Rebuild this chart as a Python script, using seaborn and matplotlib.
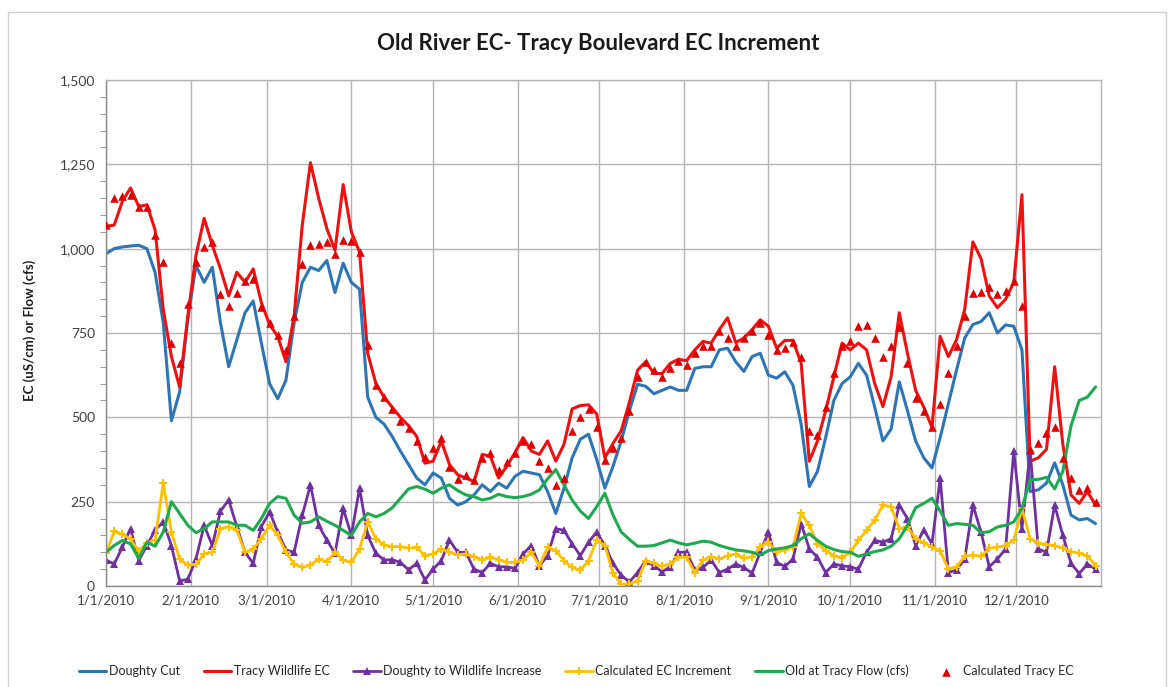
import pandas as pd
import matplotlib
matplotlib.use("Agg")
import matplotlib.pyplot as plt
import matplotlib.dates as mdates
from matplotlib.ticker import FuncFormatter, MultipleLocator
from matplotlib.patches import Rectangle
import seaborn as sns

# Readings every third day through 2010
dates = pd.date_range("2010-01-01", periods=122, freq="3D")

doughty_cut = [
    985, 1000, 1005, 1008, 1010, 1000, 930, 780, 490, 575,
    790, 950, 900, 945, 780, 650, 730, 810, 845, 720,
    600, 555, 610, 780, 900, 945, 935, 965, 870, 957,
    900, 880, 560, 500, 480, 443, 400, 360, 320, 300,
    335, 320, 260, 240, 250, 270, 300, 280, 305, 290,
    325, 340, 335, 330, 280, 215, 290, 380, 435, 450,
    375, 290, 355, 430, 520, 598, 592, 570, 580, 590,
    580, 580, 645, 650, 650, 700, 705, 665, 636, 680,
    690, 625, 616, 635, 595, 480, 295, 340, 440, 550,
    600, 620, 660, 625, 530, 430, 465, 605, 520, 430,
    380, 350, 440, 540, 640, 735, 775, 784, 810, 750,
    774, 770, 700, 280, 285, 305, 365, 300, 210, 196,
    200, 185,
]

tracy_wildlife = [
    1066, 1070, 1140, 1180, 1125, 1130, 1056, 820, 680, 590,
    800, 980, 1090, 1010, 940, 860, 930, 900, 940, 840,
    775, 740, 665, 800, 1070, 1255, 1150, 1060, 995, 1190,
    1050, 990, 690, 600, 560, 530, 500, 475, 443, 364,
    370, 430, 360, 330, 320, 310, 390, 385, 320, 355,
    395, 440, 400, 390, 430, 370, 420, 525, 535, 537,
    510, 380, 423, 460, 545, 640, 665, 630, 630, 660,
    672, 668, 700, 725, 720, 760, 795, 722, 735, 760,
    789, 770, 705, 728, 728, 660, 370, 430, 520, 620,
    720, 700, 720, 700, 600, 532, 620, 810, 690, 580,
    530, 470, 740, 680, 730, 820, 1020, 970, 860, 825,
    850, 900, 1160, 370, 380, 405, 650, 420, 270, 245,
    280, 240,
]

doughty_to_wildlife = [
    77, 65, 115, 170, 75, 120, 166, 190, 120, 15,
    20, 80, 180, 120, 222, 255, 176, 100, 67, 176,
    220, 160, 107, 100, 210, 300, 180, 136, 97, 230,
    150, 290, 150, 97, 77, 78, 70, 48, 67, 18,
    50, 75, 136, 100, 100, 50, 40, 67, 57, 57,
    52, 95, 120, 60, 90, 170, 165, 125, 90, 130,
    160, 120, 67, 32, 12, 40, 75, 60, 42, 57,
    100, 100, 47, 55, 77, 40, 50, 65, 55, 38,
    100, 160, 70, 58, 80, 185, 110, 85, 40, 65,
    60, 57, 50, 100, 135, 130, 140, 240, 200, 120,
    166, 125, 320, 40, 47, 80, 240, 160, 57, 80,
    110, 400, 170, 400, 110, 100, 240, 150, 67, 37,
    65, 50,
]

calc_ec_increment = [
    97, 162, 155, 138, 105, 127, 137, 305, 160, 80,
    62, 64, 95, 100, 170, 176, 165, 100, 110, 140,
    180, 150, 100, 65, 55, 62, 80, 72, 100, 77,
    70, 110, 190, 140, 122, 117, 117, 112, 115, 90,
    95, 110, 100, 92, 95, 87, 78, 85, 78, 70,
    70, 77, 100, 60, 115, 105, 75, 55, 47, 75,
    136, 120, 38, 5, 6, 15, 75, 67, 58, 66,
    85, 85, 40, 77, 87, 80, 90, 95, 82, 87,
    117, 130, 102, 107, 117, 215, 180, 125, 105, 90,
    84, 100, 135, 166, 195, 240, 235, 170, 175, 140,
    128, 115, 105, 50, 57, 88, 92, 88, 112, 115,
    120, 136, 230, 140, 127, 123, 120, 112, 102, 97,
    90, 60,
]

old_tracy_flow = [
    100, 120, 135, 125, 82, 130, 118, 160, 250, 215,
    180, 158, 170, 190, 190, 190, 180, 180, 165, 200,
    245, 265, 260, 210, 186, 190, 205, 192, 180, 165,
    150, 190, 215, 205, 215, 232, 260, 288, 295, 287,
    275, 290, 300, 283, 270, 265, 255, 260, 272, 265,
    262, 265, 272, 285, 318, 345, 300, 255, 222, 200,
    235, 275, 210, 160, 138, 118, 118, 120, 128, 136,
    128, 122, 127, 133, 130, 120, 113, 107, 104, 100,
    92, 105, 110, 113, 120, 140, 155, 135, 118, 108,
    102, 100, 88, 95, 102, 107, 118, 140, 180, 232,
    245, 260, 222, 180, 185, 183, 180, 158, 161, 175,
    180, 190, 230, 315, 316, 322, 288, 340, 475, 550,
    560, 590,
]

calc_tracy_ec = [
    1070, 1150, 1155, 1160, 1125, 1125, 1040, 960, 720, 660,
    835, 960, 1005, 1020, 865, 830, 870, 905, 910, 828,
    780, 745, 700, 800, 955, 1010, 1015, 1020, 985, 1026,
    1022, 990, 715, 596, 560, 525, 490, 468, 430, 383,
    410, 438, 354, 318, 328, 314, 380, 395, 344, 368,
    395, 430, 420, 372, 350, 298, 320, 460, 500, 525,
    470, 375, 410, 440, 520, 620, 665, 640, 620, 645,
    668, 655, 690, 712, 710, 755, 735, 710, 735, 755,
    779, 745, 700, 705, 722, 680, 460, 448, 530, 630,
    712, 725, 770, 775, 735, 680, 712, 769, 660, 558,
    520, 470, 540, 630, 712, 800, 870, 873, 885, 865,
    875, 905, 830, 405, 425, 455, 472, 380, 320, 285,
    290, 250,
]

series_names = [
    "Doughty Cut",
    "Tracy Wildlife EC",
    "Doughty to Wildlife Increase",
    "Calculated EC Increment",
    "Old at Tracy Flow (cfs)",
    "Calculated Tracy EC",
]

month_ticks = pd.date_range("2010-01-01", "2010-12-01", freq="MS")

df = pd.DataFrame({
    "date": dates,
    "doughty": doughty_cut,
    "tracy": tracy_wildlife,
    "increase": doughty_to_wildlife,
    "increment": calc_ec_increment,
    "flow": old_tracy_flow,
    "calc": calc_tracy_ec,
})

sns.set_style("white")
plt.rcParams["font.family"] = ["Lato", "DejaVu Sans"]

W, H = 1173, 687
fig = plt.figure(figsize=(W / 100, H / 100), dpi=100)
ax = fig.add_axes([106 / W, 1 - 586 / H, (1101 - 106) / W, (586 - 80) / H])

blue = "#2E75B6"
red = "#F01010"
purple = "#7030A0"
gold = "#FFC000"
green = "#1EAA50"

sns.lineplot(data=df, x="date", y="doughty", ax=ax, color=blue, lw=2.2,
             label=series_names[0])
sns.lineplot(data=df, x="date", y="tracy", ax=ax, color=red, lw=2.2,
             label=series_names[1])
sns.lineplot(data=df, x="date", y="increase", ax=ax, color=purple, lw=2,
             marker="^", markersize=5.5, markeredgewidth=0, label=series_names[2])
sns.lineplot(data=df, x="date", y="increment", ax=ax, color=gold, lw=2,
             marker="P", markersize=5.5, markeredgewidth=0, label=series_names[3])
sns.lineplot(data=df, x="date", y="flow", ax=ax, color=green, lw=2.2,
             label=series_names[4])
sns.scatterplot(data=df, x="date", y="calc", ax=ax, color="#E00000",
                marker="^", s=38, linewidth=0, label=series_names[5], zorder=5)

ax.set_xlim(pd.Timestamp("2010-01-01"), pd.Timestamp("2011-01-01"))
ax.set_ylim(0, 1500)
ax.set_xlabel("")
ax.set_ylabel("")

ax.set_xticks(month_ticks)
ax.xaxis.set_major_formatter(
    FuncFormatter(lambda v, _: (lambda d: f"{d.month}/{d.day}/{d.year}")(mdates.num2date(v))))
ax.yaxis.set_major_locator(MultipleLocator(250))
ax.yaxis.set_minor_locator(MultipleLocator(50))
ax.yaxis.set_major_formatter(FuncFormatter(lambda v, _: f"{v:,.0f}"))

grid_color = "#b4b4b4"
ax.grid(True, which="major", color=grid_color, lw=1)
ax.set_axisbelow(True)
for side in ["top", "right"]:
    ax.spines[side].set_color(grid_color)
    ax.spines[side].set_linewidth(1)
for side in ["left", "bottom"]:
    ax.spines[side].set_color("#8a8a8a")
    ax.spines[side].set_linewidth(1)

ax.tick_params(axis="y", which="major", direction="out", length=5, color="#8a8a8a",
               labelsize=10, labelcolor="#404040", pad=3)
ax.tick_params(axis="y", which="minor", direction="out", length=4, color="#8a8a8a", left=True)
ax.tick_params(axis="x", which="major", direction="out", length=0,
               labelsize=9.5, labelcolor="#404040", pad=6)

fig.text(0.510, 1 - 43 / H, "Old River EC- Tracy Boulevard EC Increment",
         ha="center", va="center", fontsize=16, fontweight="bold", color="#1a1a1a")
fig.text(30 / W, 1 - 330 / H, "EC (uS/cm) or Flow (cfs)", rotation=90,
         ha="center", va="center", fontsize=9.5, fontweight="bold", color="#1a1a1a")

handles, labels = ax.get_legend_handles_labels()
ax.get_legend().remove()
fig.legend(handles, labels, loc="center", bbox_to_anchor=(0.491, 1 - 671 / H), ncol=6,
           frameon=False, fontsize=9, handlelength=2.2, handletextpad=0.2,
           columnspacing=1.9, labelcolor="#262626")

fig.patches.append(Rectangle((8 / W, -0.01), (1166 - 8) / W, (H - 12) / H + 0.01,
                             transform=fig.transFigure, fill=False,
                             edgecolor="#d0d0d0", lw=1))

fig.savefig("out.png", dpi=100)
